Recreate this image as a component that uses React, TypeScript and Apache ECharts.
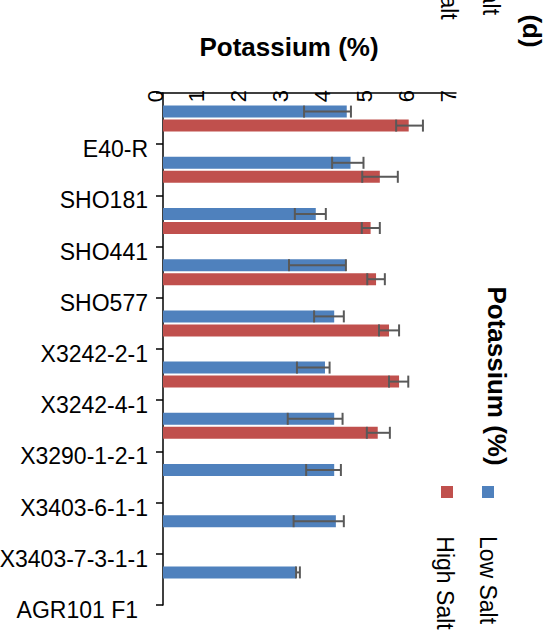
import React, { useEffect, useRef } from "react";
import * as echarts from "echarts";

const categories = [
  "E40-R",
  "SHO181",
  "SHO441",
  "SHO577",
  "X3242-2-1",
  "X3242-4-1",
  "X3290-1-2-1",
  "X3403-6-1-1",
  "X3403-7-3-1-1",
  "AGR101 F1",
];
const lowSalt = [4.39, 4.48, 3.65, 4.36, 4.09, 3.87, 4.09, 4.09, 4.13, 3.18];
const highSalt: (number | null)[] = [5.87, 5.18, 4.96, 5.09, 5.4, 5.64, 5.13, null, null, null];
const lowErrMin = [3.37, 4.04, 3.15, 3.01, 3.61, 3.2, 2.98, 3.42, 3.12, 3.18];
const lowErrMax = [4.49, 4.79, 3.89, 4.37, 4.32, 3.98, 4.29, 4.25, 4.32, 3.27];
const highErrMin = [5.57, 4.76, 4.75, 4.88, 5.16, 5.4, 4.87];
const highErrMax = [6.21, 5.61, 5.18, 5.3, 5.64, 5.86, 5.42];
const xTicks = { min: 0, max: 7, interval: 1 };

const FONT = "Liberation Sans, Arial, sans-serif";
const BLUE = "#4F81BD";
const RED = "#C0504D";
const ERR = "#595959";

function errRender(offset: number) {
  return (params: any, api: any) => {
    const lo = api.value(0);
    const hi = api.value(1);
    const idx = api.value(2);
    const p1 = api.coord([lo, idx]);
    const p2 = api.coord([hi, idx]);
    const y = p1[1] + offset;
    const cap = 6;
    const style = { stroke: ERR, lineWidth: 2 };
    return {
      type: "group",
      children: [
        { type: "line", shape: { x1: p1[0], y1: y, x2: p2[0], y2: y }, style },
        { type: "line", shape: { x1: p1[0], y1: y - cap, x2: p1[0], y2: y + cap }, style },
        { type: "line", shape: { x1: p2[0], y1: y - cap, x2: p2[0], y2: y + cap }, style },
      ],
    };
  };
}

function rotText(text: string, x: number, y: number, size: number, bold = false) {
  return {
    type: "text",
    x,
    y,
    rotation: -Math.PI / 2,
    style: {
      text,
      fill: "#000",
      font: `${bold ? "bold " : ""}${size}px ${FONT}`,
      textAlign: "center",
      textVerticalAlign: "middle",
    },
  };
}

export default function App() {
  const ref = useRef<HTMLDivElement>(null);
  useEffect(() => {
    if (!ref.current) return;
    const chart = echarts.init(ref.current, null, { renderer: "svg" });
    const lowErrData = lowErrMin.map((v, i) => [v, lowErrMax[i], i]);
    const highErrData = highErrMin.map((v, i) => [v, highErrMax[i], i]);
    chart.setOption({
      animation: false,
      backgroundColor: "#fff",
      textStyle: { fontFamily: FONT },
      grid: {
        left: 163,
        top: 93,
        width: 293,
        height: 512,
        containLabel: false,
        outerBoundsMode: "none",
      },
      xAxis: {
        type: "value",
        position: "top",
        min: xTicks.min,
        max: xTicks.max,
        interval: xTicks.interval,
        splitLine: { show: false },
        axisLine: { show: true, lineStyle: { color: "#000", width: 1.5 } },
        axisTick: { show: false },
        axisLabel: {
          inside: true,
          rotate: -90,
          margin: -3,
          formatter: (v: number) => `{t|${v}}`,
          rich: {
            t: { fontSize: 22, color: "#000", fontFamily: FONT, padding: [0, 0, 16, 0] },
          },
        },
      },
      yAxis: {
        type: "category",
        inverse: true,
        data: categories,
        axisLine: { show: true, lineStyle: { color: "#000", width: 1.5 } },
        axisTick: { show: true, length: 7, lineStyle: { color: "#000", width: 1.5 } },
        axisLabel: {
          margin: 15,
          formatter: (v: string, i: number) =>
            i === categories.length - 1 ? `{d|${v}}` : `{c|${v}}`,
          rich: {
            c: { fontSize: 23, color: "#000", fontFamily: FONT, padding: [61, 0, 0, 0] },
            d: { fontSize: 23, color: "#000", fontFamily: FONT, padding: [61, 10, 0, 0] },
          },
        },
      },
      series: [
        {
          name: "Low Salt",
          type: "bar",
          data: lowSalt,
          barWidth: 12,
          barGap: "17%",
          itemStyle: { color: BLUE },
        },
        {
          name: "High Salt",
          type: "bar",
          data: highSalt,
          barWidth: 12,
          barGap: "17%",
          itemStyle: { color: RED },
        },
        {
          type: "custom",
          renderItem: errRender(-7),
          data: lowErrData,
          encode: { x: [0, 1], y: 2 },
          z: 5,
        },
        {
          type: "custom",
          renderItem: errRender(7),
          data: highErrData,
          encode: { x: [0, 1], y: 2 },
          z: 5,
        },
      ],
      graphic: [
        {
          type: "text",
          x: 289,
          y: 47,
          style: {
            text: "Potassium (%)",
            fill: "#000",
            font: `bold 26px ${FONT}`,
            textAlign: "center",
            textVerticalAlign: "middle",
          },
        },
        rotText("Potassium (%)", 497, 376, 26, true),
        { type: "rect", shape: { x: 482, y: 486, width: 12, height: 12 }, style: { fill: BLUE } },
        { type: "rect", shape: { x: 441, y: 486, width: 12, height: 12 }, style: { fill: RED } },
        rotText("Low Salt", 488, 580, 23),
        rotText("High Salt", 445, 583, 23),
        rotText("(d)", 532, 31, 26, true),
        rotText("Low Salt", 491, -29, 23),
        rotText("High Salt", 449, -27, 23),
      ],
    });
    return () => chart.dispose();
  }, []);
  return (
    <div
      ref={ref}
      style={{ position: "fixed", left: 0, top: 0, width: 549, height: 639 }}
    />
  );
}
